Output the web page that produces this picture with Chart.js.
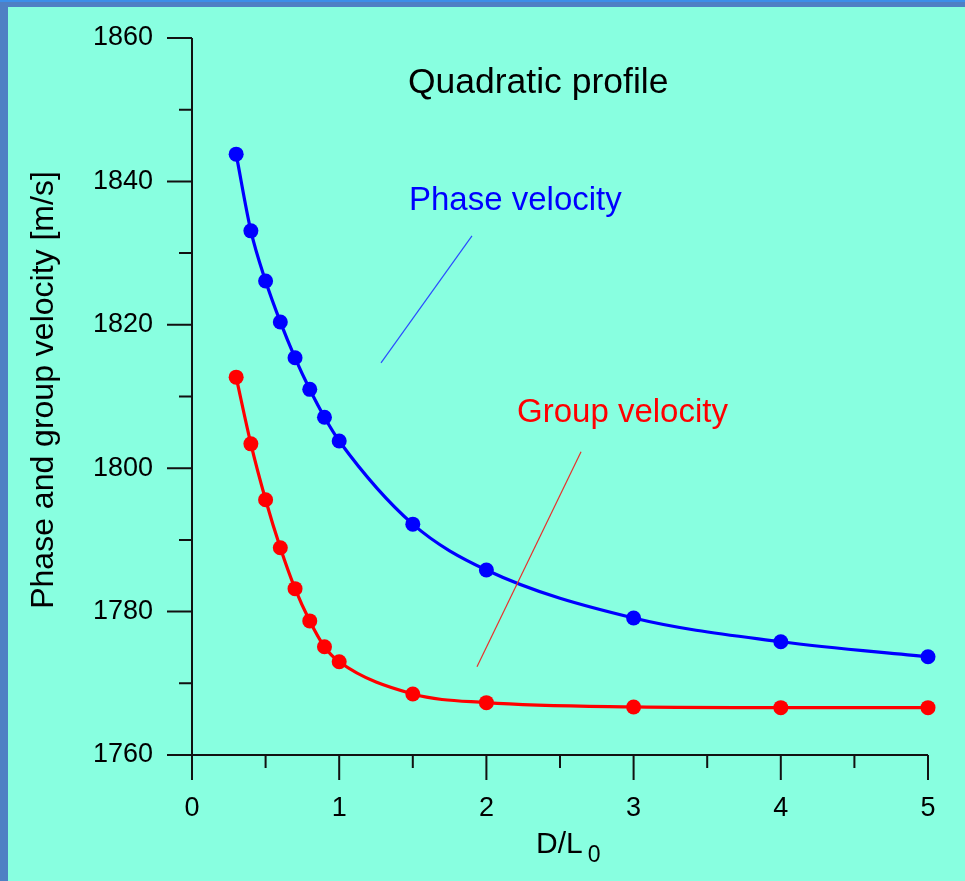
<!DOCTYPE html>
<html>
<head>
<meta charset="utf-8">
<script src="https://cdn.jsdelivr.net/npm/chart.js@4"></script>
<style>
  html, body { margin: 0; padding: 0; background: #88ffe0; }
  #wrap { width: 965px; height: 881px; }
</style>
</head>
<body>
<div id="wrap"><canvas id="chart" width="965" height="881"></canvas></div>
<script>
// D/L0 values and the two velocity curves (m/s)
const distances = [0.3, 0.4, 0.5, 0.6, 0.7, 0.8, 0.9, 1.0, 1.5, 2, 3, 4, 5];
const phaseVelocity = [1843.8, 1833.1, 1826.1, 1820.4, 1815.4, 1811.0, 1807.1, 1803.8, 1792.2, 1785.8, 1779.1, 1775.8, 1773.7];
const groupVelocity = [1812.7, 1803.4, 1795.6, 1788.9, 1783.2, 1778.7, 1775.1, 1773.0, 1768.5, 1767.3, 1766.7, 1766.6, 1766.6];

const xMajorTicks = [0, 1, 2, 3, 4, 5];
const xMinorTicks = [0.5, 1.5, 2.5, 3.5, 4.5];
const yMajorTicks = [1760, 1780, 1800, 1820, 1840, 1860];
const yMinorTicks = [1770, 1790, 1810, 1830, 1850];

const FONT = 'Arial, "Liberation Sans", sans-serif';

// labels in data coordinates
const labels = [
    { text: 'Quadratic profile', x: 1.467, y: 1852.3, color: '#000000', size: 35.5 },
    { text: 'Phase velocity', x: 1.474, y: 1836.0, color: '#0000ff', size: 33 },
    { text: 'Group velocity', x: 2.208, y: 1806.4, color: '#ff0000', size: 33 },
];
const pointers = [
    { from: [1.284, 1814.7], to: [1.902, 1832.4], color: '#2a4cff' },
    { from: [1.936, 1772.3], to: [2.643, 1802.3], color: '#e8302a' },
];

const toPoints = ys => distances.map((d, i) => ({ x: d, y: ys[i] }));

const frame = {
    id: 'frame',
    beforeDraw(chart) {
        const ctx = chart.ctx;
        ctx.save();
        ctx.fillStyle = '#88ffe0';
        ctx.fillRect(0, 0, chart.width, chart.height);
        ctx.fillStyle = '#4f80c4';
        ctx.fillRect(0, 0, chart.width, 7);
        ctx.fillRect(0, 0, 8, chart.height);
        ctx.fillStyle = '#3d8fe8';
        ctx.fillRect(0, 0, chart.width, 2);
        ctx.restore();
    },
    afterDraw(chart) {
        const ctx = chart.ctx;
        const xs = chart.scales.x, ys = chart.scales.y;
        const x0 = xs.getPixelForValue(0), x5 = xs.getPixelForValue(5);
        const yb = ys.getPixelForValue(1760), yt = ys.getPixelForValue(1860);
        ctx.save();
        ctx.strokeStyle = '#111111';
        ctx.lineWidth = 2;
        ctx.beginPath();
        ctx.moveTo(x0, yt); ctx.lineTo(x0, yb);
        ctx.moveTo(x0 - 25, yb); ctx.lineTo(x5, yb);
        yMajorTicks.forEach(v => { const p = ys.getPixelForValue(v); ctx.moveTo(x0 - 25, p); ctx.lineTo(x0, p); });
        yMinorTicks.forEach(v => { const p = ys.getPixelForValue(v); ctx.moveTo(x0 - 13, p); ctx.lineTo(x0, p); });
        xMajorTicks.forEach(v => { const p = xs.getPixelForValue(v); ctx.moveTo(p, yb); ctx.lineTo(p, yb + 25); });
        xMinorTicks.forEach(v => { const p = xs.getPixelForValue(v); ctx.moveTo(p, yb); ctx.lineTo(p, yb + 13); });
        ctx.stroke();

        // pointer lines
        ctx.lineWidth = 1.2;
        pointers.forEach(l => {
            ctx.strokeStyle = l.color;
            ctx.beginPath();
            ctx.moveTo(xs.getPixelForValue(l.from[0]), ys.getPixelForValue(l.from[1]));
            ctx.lineTo(xs.getPixelForValue(l.to[0]), ys.getPixelForValue(l.to[1]));
            ctx.stroke();
        });

        // annotations
        ctx.textAlign = 'left';
        ctx.textBaseline = 'alphabetic';
        labels.forEach(t => {
            ctx.font = t.size + 'px ' + FONT;
            ctx.fillStyle = t.color;
            ctx.fillText(t.text, xs.getPixelForValue(t.x), ys.getPixelForValue(t.y));
        });

        // axis titles
        ctx.fillStyle = '#000000';
        ctx.font = '30px ' + FONT;
        ctx.fillText('D/L', 536, 853);
        const w = ctx.measureText('D/L').width;
        ctx.font = '23px ' + FONT;
        ctx.fillText('0', 536 + w + 5, 862);

        ctx.font = '32px ' + FONT;
        ctx.translate(44, 390);
        ctx.rotate(-Math.PI / 2);
        ctx.textAlign = 'center';
        ctx.textBaseline = 'middle';
        ctx.fillText('Phase and group velocity [m/s]', 0, 0);
        ctx.restore();
    }
};

new Chart(document.getElementById('chart'), {
    type: 'line',
    data: {
        datasets: [
            {
                label: 'Phase velocity',
                data: toPoints(phaseVelocity),
                borderColor: '#0000ff',
                backgroundColor: '#0000ff',
                borderWidth: 3.2,
                pointRadius: 7.5,
                pointBorderWidth: 0,
                cubicInterpolationMode: 'monotone',
                clip: false,
            },
            {
                label: 'Group velocity',
                data: toPoints(groupVelocity),
                borderColor: '#ff0000',
                backgroundColor: '#ff0000',
                borderWidth: 3.2,
                pointRadius: 7.5,
                pointBorderWidth: 0,
                cubicInterpolationMode: 'monotone',
                clip: false,
            },
        ],
    },
    options: {
        responsive: false,
        animation: false,
        layout: { padding: { left: 0, top: 38, right: 37, bottom: 0 } },
        plugins: {
            legend: { display: false },
            tooltip: { enabled: false },
        },
        scales: {
            x: {
                type: 'linear',
                min: 0,
                max: 5,
                afterFit: s => { s.height = 126; },
                grid: { display: true, drawOnChartArea: false, drawTicks: true, tickLength: 32, color: 'rgba(0,0,0,0)' },
                border: { display: false },
                ticks: {
                    stepSize: 1,
                    padding: 5,
                    color: '#000000',
                    font: { family: FONT, size: 27 },
                },
            },
            y: {
                min: 1760,
                max: 1860,
                afterFit: s => { s.width = 192; },
                grid: { display: true, drawOnChartArea: false, drawTicks: true, tickLength: 34, color: 'rgba(0,0,0,0)' },
                border: { display: false },
                ticks: {
                    stepSize: 20,
                    padding: 5,
                    color: '#000000',
                    font: { family: FONT, size: 27 },
                    callback: v => String(v),
                },
            },
        },
    },
    plugins: [frame],
});
</script>
</body>
</html>
